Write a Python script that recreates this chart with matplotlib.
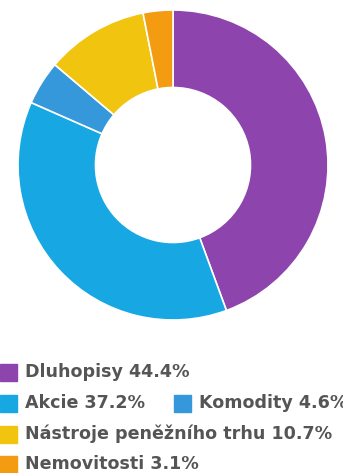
import matplotlib
matplotlib.use("Agg")
import matplotlib.pyplot as plt
from matplotlib.patches import Rectangle

# Portfolio allocation
labels = ["Dluhopisy", "Akcie", "Komodity", "Nástroje peněžního trhu", "Nemovitosti"]
shares = [44.4, 37.2, 4.6, 10.7, 3.1]
colors = ["#8e44ad", "#17a8e3", "#3498db", "#f1c40f", "#f39c12"]

W, H = 343, 473
fig = plt.figure(figsize=(W / 100, H / 100), dpi=100)

# Donut
cx, cy, r = 173, 165, 155
ax = fig.add_axes([(cx - r) / W, 1 - (cy + r) / H, 2 * r / W, 2 * r / H])
ax.pie(shares, colors=colors, startangle=90, counterclock=False, radius=1.0,
       wedgeprops=dict(width=0.5, edgecolor="white", linewidth=1.2))
ax.set_xlim(-1, 1)
ax.set_ylim(-1, 1)
ax.set_aspect("equal")
ax.axis("off")

# Legend laid out in rows: (item index, x position of swatch)
rows = [[(0, 0)], [(1, 0), (2, 174)], [(3, 0)], [(4, 0)]]
row_y = [372, 403, 434, 464]
sw = 17
for row, y in zip(rows, row_y):
    for i, x in row:
        fig.patches.append(Rectangle((x / W, 1 - (y + sw / 2) / H), sw / W, sw / H,
                                     transform=fig.transFigure, color=colors[i]))
        fig.text((x + 25) / W, 1 - y / H, f"{labels[i]} {shares[i]}%",
                 fontsize=12.6, fontweight="bold", color="#555555",
                 ha="left", va="center", family="DejaVu Sans")

fig.savefig("out.png", dpi=100)
